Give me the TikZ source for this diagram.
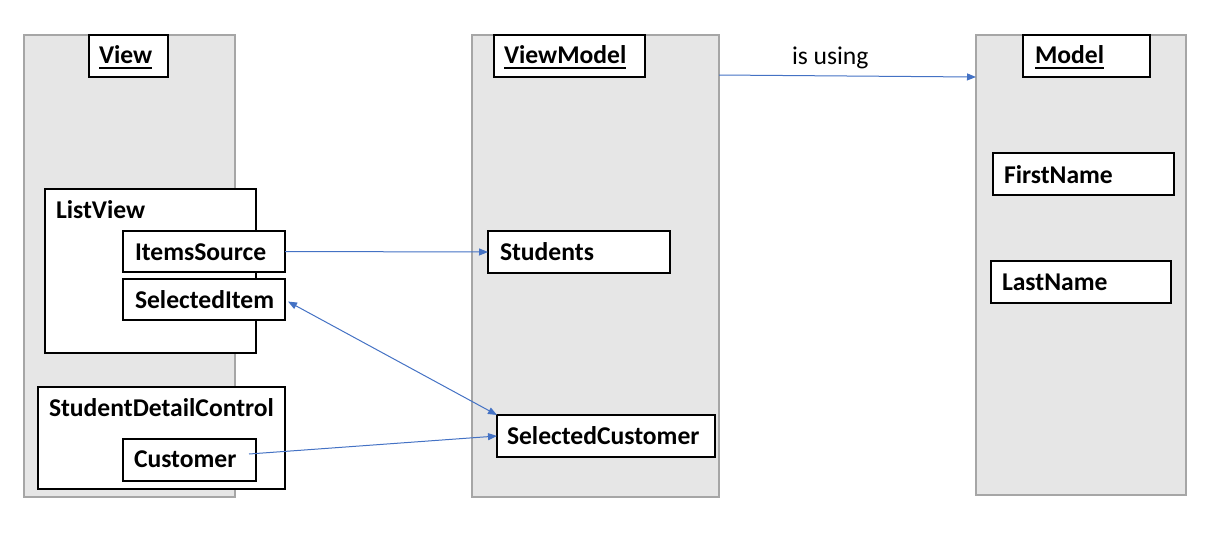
\documentclass[tikz,border=0pt]{standalone}
\usepackage{fontspec}
\setmainfont{Carlito}
\usetikzlibrary{arrows.meta,calc}
\definecolor{colfill}{RGB}{230,230,230}
\definecolor{colline}{RGB}{166,166,166}
\definecolor{arrblue}{RGB}{68,114,196}
\tikzset{
  column/.style={draw=colline, fill=colfill, line width=1.2pt, anchor=north west, inner sep=0pt, outer sep=0pt},
  boxx/.style={draw=black, fill=white, line width=1.2pt, anchor=north west, inner sep=0pt, outer sep=0pt},
  lbl/.style={anchor=base west, inner sep=0pt, outer sep=0pt, font=\bfseries\fontsize{25.6}{30}\selectfont},
  conn/.style={draw=arrblue, line width=1pt, -{Triangle[length=9pt,width=7pt]}},
  uline/.style={line width=1.7pt}
}
\begin{document}
\begin{tikzpicture}[x=1pt,y=-1pt]
\useasboundingbox (0,0) rectangle (1223,547);
% columns
\node[column, minimum width=211pt, minimum height=462pt] (vcol) at (24,35) {};
\node[column, minimum width=247pt, minimum height=462pt] (vmcol) at (472,35) {};
\node[column, minimum width=210pt, minimum height=460pt] (mcol) at (976,35) {};
% titles
\node[boxx, minimum width=79pt, minimum height=42pt] (vt) at (89,35) {};
\node[boxx, minimum width=151pt, minimum height=42pt] (vmt) at (494,35) {};
\node[boxx, minimum width=127pt, minimum height=42pt] (mt) at (1023,35) {};
\node[lbl] (tv) at (99,63) {View};
\node[lbl] (tvm) at (504,63) {ViewModel};
\node[lbl] (tm) at (1035,63) {Model};
\draw[uline] ([yshift=-5pt]tv.base west) -- ([yshift=-5pt]tv.base east);
\draw[uline] ([yshift=-5pt]tvm.base west) -- ([yshift=-5pt]tvm.base east);
\draw[uline] ([yshift=-5pt]tm.base west) -- ([yshift=-5pt]tm.base east);
% View contents
\node[boxx, minimum width=211pt, minimum height=164pt] (lv) at (45,189) {};
\node[lbl] (tlv) at (56,218) {ListView};
\node[boxx, minimum width=162pt, minimum height=41pt] (items) at (123,231) {};
\node[lbl] (titems) at (135,260) {ItemsSource};
\node[boxx, minimum width=162pt, minimum height=41pt] (selitem) at (123,279) {};
\node[lbl] (tselitem) at (135,308) {SelectedItem};
\node[boxx, minimum width=247pt, minimum height=102pt] (sdc) at (38,387) {};
\node[lbl] (tsdc) at (49,416) {StudentDetailControl};
\node[boxx, minimum width=133pt, minimum height=42pt] (cust) at (123,439) {};
\node[lbl] (tcust) at (134,467) {Customer};
% ViewModel contents
\node[boxx, minimum width=182pt, minimum height=42pt] (stud) at (488,231) {};
\node[lbl] (tstud) at (500,260.5) {Students};
\node[boxx, minimum width=218pt, minimum height=42pt] (selcust) at (497,415) {};
\node[lbl] (tselcust) at (507,444) {SelectedCustomer};
% Model contents
\node[boxx, minimum width=181pt, minimum height=42pt] (fn) at (993,153) {};
\node[lbl] (tfn) at (1004,183) {FirstName};
\node[boxx, minimum width=180pt, minimum height=42pt] (ln) at (991,261) {};
\node[lbl] (tln) at (1002,290) {LastName};
% connectors
\node[lbl, font=\mdseries\fontsize{25.6}{30}\selectfont] (tuse) at (792,64) {is using};
\draw[conn] ($(vmcol.north east)+(0,40)$) -- ($(mcol.north west)+(0,42)$);
\draw[conn] (items.east) -- (stud.west);
\draw[conn, {Triangle[length=9pt,width=7pt]}-{Triangle[length=9pt,width=7pt]}] ([xshift=3pt,yshift=-2pt]selitem.east) -- (selcust.north west);
\coordinate (cstart) at (249,454);
\draw[conn] (cstart) -- (selcust.west);
\end{tikzpicture}
\end{document}
